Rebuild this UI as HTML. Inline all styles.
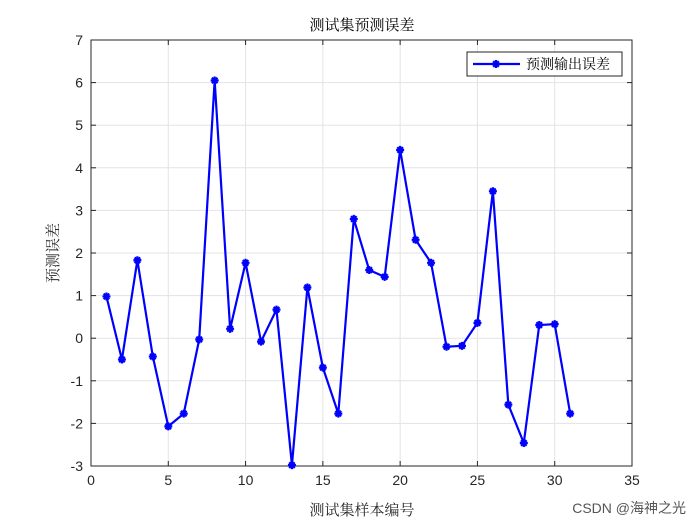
<!DOCTYPE html>
<html><head><meta charset="utf-8"><style>
body{margin:0;background:#fff;}
svg text{font-family:"Liberation Sans","Noto Sans CJK SC",sans-serif;}
svg text.cjk{font-family:"Liberation Serif","Noto Serif CJK SC",serif;}
</style></head><body>
<svg width="700" height="525" id="c">
<rect width="700" height="525" fill="#fff"/>
</svg>
<script>
const categories=[1,2,3,4,5,6,7,8,9,10,11,12,13,14,15,16,17,18,19,20,21,22,23,24,25,26,27,28,29,30,31];
const errors=[0.98,-0.5,1.83,-0.43,-2.07,-1.77,-0.03,6.05,0.22,1.77,-0.08,0.67,-2.98,1.19,-0.69,-1.77,2.8,1.6,1.44,4.42,2.31,1.77,-0.2,-0.18,0.36,3.45,-1.56,-2.46,0.31,0.33,-1.77];
const xTicks=[0,5,10,15,20,25,30,35];
const yTicks=[-3,-2,-1,0,1,2,3,4,5,6,7];
const L=91,R=632,T=40,B=466;
const sx=v=>L+(v-0)/(35-0)*(R-L);
const sy=v=>B-(v+3)/(10)*(B-T);
const svg=document.getElementById('c');
const NS='http://www.w3.org/2000/svg';
function mk(t,a,p){const e=document.createElementNS(NS,t);for(const k in a)e.setAttribute(k,a[k]);(p||svg).appendChild(e);return e;}
let g=mk('g',{});


xTicks.forEach(v=>{mk('line',{x1:sx(v),x2:sx(v),y1:T,y2:B,stroke:'#e3e3e3','stroke-width':1},g);});
yTicks.forEach(v=>{mk('line',{x1:L,x2:R,y1:sy(v),y2:sy(v),stroke:'#e3e3e3','stroke-width':1},g);});
let ax=mk('g',{});


mk('rect',{x:L,y:T,width:R-L,height:B-T,fill:'none',stroke:'#262626','stroke-width':1},ax);
xTicks.forEach(v=>{const x=sx(v);mk('line',{x1:x,x2:x,y1:B,y2:B-5,stroke:'#262626'},ax);mk('line',{x1:x,x2:x,y1:T,y2:T+5,stroke:'#262626'},ax);
const t=mk('text',{x:x,y:B+19,'text-anchor':'middle','font-size':14,fill:'#262626'},ax);t.textContent=v;

});
yTicks.forEach(v=>{const y=sy(v);mk('line',{x1:L,x2:L+5,y1:y,y2:y,stroke:'#262626'},ax);mk('line',{x1:R,x2:R-5,y1:y,y2:y,stroke:'#262626'},ax);
const t=mk('text',{x:L-8,y:y+5,'text-anchor':'end','font-size':14,fill:'#262626'},ax);t.textContent=v;

});
const pts=categories.map((c,i)=>sx(c)+','+sy(errors[i])).join(' ');
const line=mk('polyline',{points:pts,fill:'none',stroke:'#0000ff','stroke-width':2.2});


function star(x,y,p){const s=4;mk('path',{d:`M${x-s} ${y}H${x+s}M${x} ${y-s}V${y+s}M${x-s*.7} ${y-s*.7}L${x+s*.7} ${y+s*.7}M${x-s*.7} ${y+s*.7}L${x+s*.7} ${y-s*.7}`,stroke:'#0000ff','stroke-width':2.2},p);}
categories.forEach((c,i)=>{const m=mk('g',{});


star(sx(c),sy(errors[i]),m);});
const t1=mk('text',{x:362,y:30,'text-anchor':'middle','font-size':15,fill:'#000',class:'cjk'});t1.textContent='测试集预测误差';


const t2=mk('text',{x:362,y:515,'text-anchor':'middle','font-size':15,fill:'#262626',class:'cjk'});t2.textContent='测试集样本编号';


const t3=mk('text',{x:0,y:0,'text-anchor':'middle','font-size':15,fill:'#262626',class:'cjk',transform:'translate(58,253) rotate(-90)'});t3.textContent='预测误差';


const lg=mk('g',{});


mk('rect',{x:467,y:52,width:155,height:24,fill:'#fff',stroke:'#262626','stroke-width':1},lg);
mk('line',{x1:473,x2:520,y1:64,y2:64,stroke:'#0000ff','stroke-width':2.2},lg);
star(496,64,lg);
const lt=mk('text',{x:526,y:69,'font-size':14,fill:'#000',class:'cjk'},lg);lt.textContent='预测输出误差';
const wm=mk('text',{x:686,y:513,'text-anchor':'end','font-size':14,fill:'#555'});wm.textContent='CSDN @海神之光';


</script>
</body></html>
